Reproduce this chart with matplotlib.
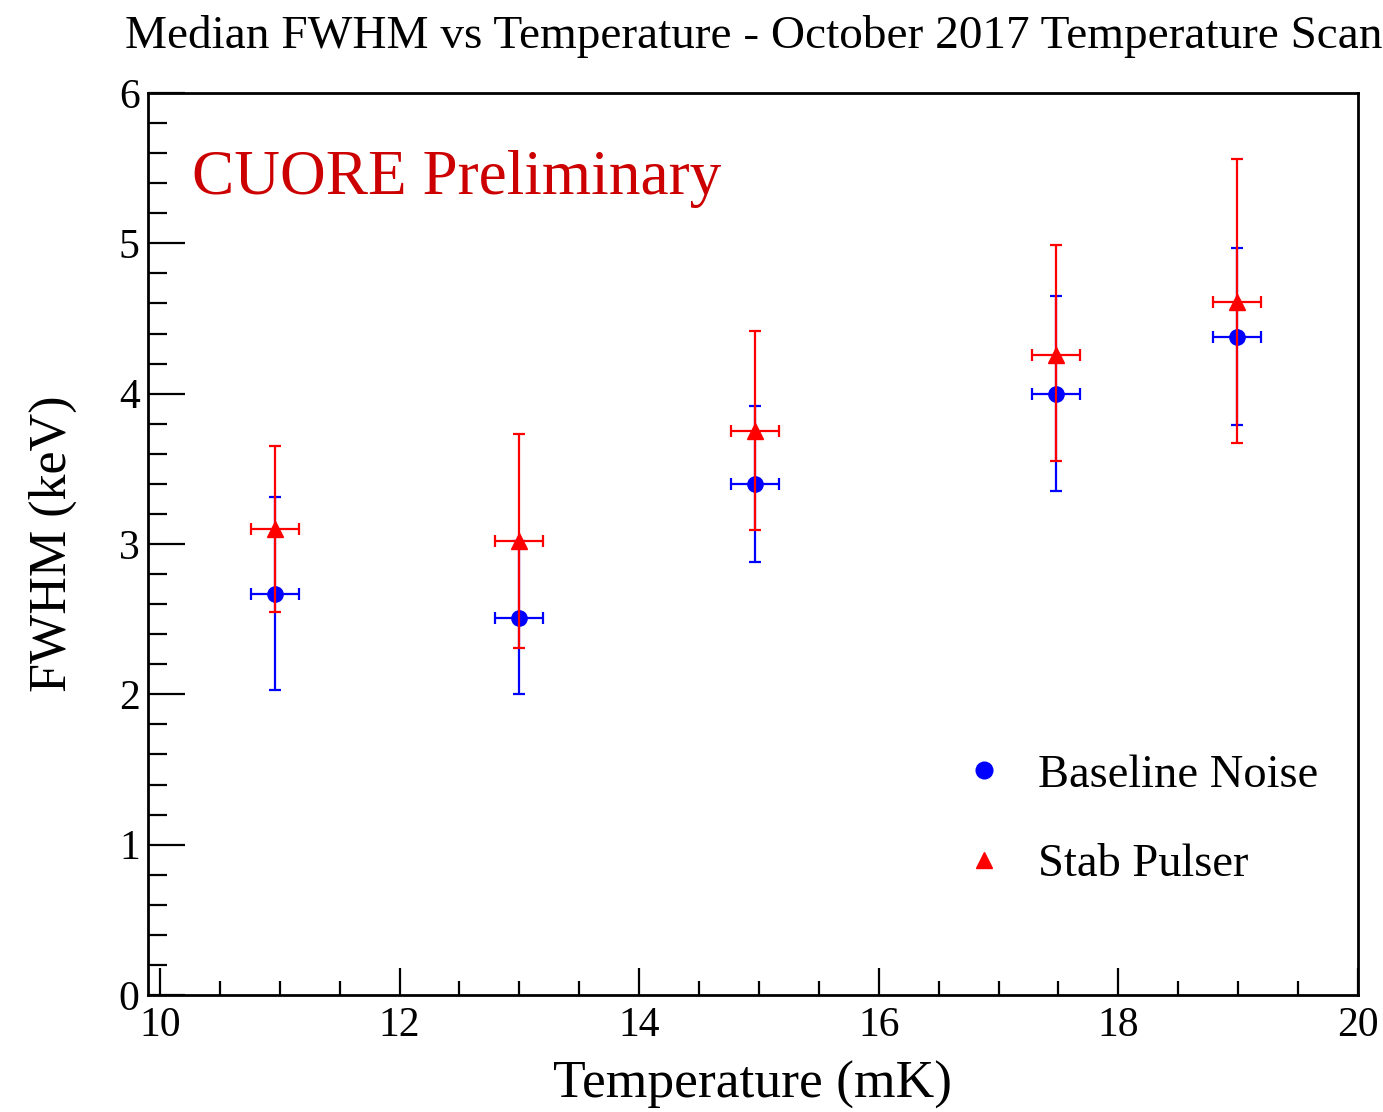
import matplotlib
matplotlib.use("Agg")
import matplotlib.pyplot as plt
from matplotlib.lines import Line2D
from matplotlib.ticker import MultipleLocator

plt.rcParams['font.family'] = ['Liberation Serif', 'DejaVu Serif']

# temperature scan points (mK) and median FWHM (keV)
temp_noise = [10.96, 13.0, 14.97, 17.48, 18.99]
fwhm_noise = [2.67, 2.51, 3.40, 4.00, 4.38]
err_lo_noise = [0.64, 0.51, 0.52, 0.65, 0.59]
err_hi_noise = [0.64, 0.51, 0.52, 0.65, 0.59]

temp_pulser = [10.96, 13.0, 14.97, 17.48, 18.99]
fwhm_pulser = [3.10, 3.02, 3.75, 4.26, 4.61]
err_lo_pulser = [0.55, 0.71, 0.66, 0.71, 0.94]
err_hi_pulser = [0.55, 0.71, 0.67, 0.73, 0.95]

temp_err = 0.2

fig = plt.figure(figsize=(13.83, 11.12), dpi=100)
ax = fig.add_axes([0.1070, 0.1052, 0.8749, 0.8112])

ax.errorbar(temp_noise, fwhm_noise, xerr=temp_err,
            yerr=[err_lo_noise, err_hi_noise], fmt='o', color='#0000ff',
            ms=11, elinewidth=1.6, capsize=4, capthick=1.6, zorder=3)
ax.errorbar(temp_pulser, fwhm_pulser, xerr=temp_err,
            yerr=[err_lo_pulser, err_hi_pulser], fmt='^', color='#ff0000',
            ms=12, elinewidth=1.6, capsize=4, capthick=1.6, zorder=4)

ax.set_xlim(9.9, 20.0)
ax.set_ylim(0, 6)

ax.xaxis.set_major_locator(MultipleLocator(2))
ax.xaxis.set_minor_locator(MultipleLocator(0.5))
ax.yaxis.set_major_locator(MultipleLocator(1))
ax.yaxis.set_minor_locator(MultipleLocator(0.2))

ax.tick_params(axis='x', which='major', direction='in', length=19.5,
               width=1.6, labelsize=30, pad=8, top=False)
ax.tick_params(axis='x', which='minor', direction='in', length=10,
               width=1.6, top=False)
ax.tick_params(axis='y', which='major', direction='in', length=26.5,
               width=1.6, labelsize=30, pad=6, right=False)
ax.tick_params(axis='y', which='minor', direction='in', length=13.5,
               width=1.6, right=False)
for sp in ax.spines.values():
    sp.set_linewidth(2)

ax.set_xlabel('Temperature (mK)', fontsize=38.5, labelpad=12)
ax.set_ylabel('FWHM (keV)', fontsize=37.5, labelpad=30)

fig.text(754 / 1383, 0.967, 'Median FWHM vs Temperature - October 2017 Temperature Scan',
         fontsize=34, ha='center', va='center')

ax.text(0.036, 0.905, 'CUORE Preliminary', transform=ax.transAxes,
        fontsize=45.5, color='#cc0000', ha='left', va='center')

handles = [Line2D([], [], marker='o', ls='none', color='#0000ff', ms=12),
           Line2D([], [], marker='^', ls='none', color='#ff0000', ms=11)]
ax.legend(handles, ['Baseline Noise', 'Stab Pulser'], loc='center left',
          bbox_to_anchor=(0.672, 0.194), frameon=False, fontsize=33.5,
          handletextpad=0.65, labelspacing=1.0, handlelength=1.0,
          borderpad=0, borderaxespad=0)

fig.savefig('out.png', dpi=100)
